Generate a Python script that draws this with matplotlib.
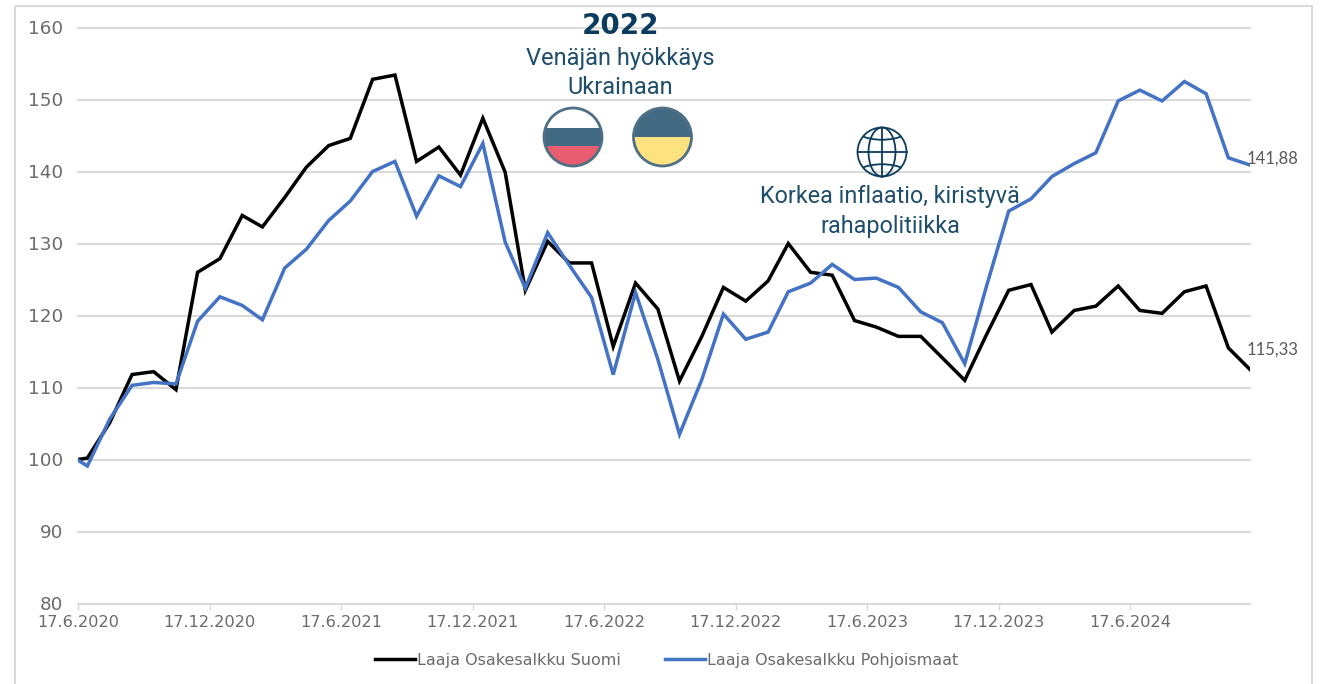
#!/usr/bin/env python3
"""Laaja Osakesalkku Suomi vs Pohjoismaat, indexed to 100 at 17.6.2020."""

from datetime import date

import matplotlib
matplotlib.use("Agg")
import matplotlib.dates as mdates
import matplotlib.pyplot as plt
from matplotlib.patches import Circle, Ellipse, Rectangle
from matplotlib.transforms import Affine2D

W, H = 1329, 684
DPI = 100

# start date, then month ends
dates = [date(2020, 6, 17)]
for y in range(2020, 2025):
    for m in range(1, 13):
        if (y, m) < (2020, 6) or (y, m) > (2024, 11):
            continue
        nxt = date(y + (m == 12), m % 12 + 1, 1)
        dates.append(date.fromordinal(nxt.toordinal() - 1))

suomi = [
    100.0, 100.2, 105.1, 111.8, 112.2, 109.7, 126.0, 127.9, 133.9, 132.3, 136.4, 140.6,
    143.6, 144.6, 152.8, 153.4, 141.4, 143.4, 139.5, 147.4, 139.9, 123.5, 130.3, 127.3,
    127.3, 115.7, 124.5, 120.9, 110.9, 117.1, 123.9, 122.0, 124.8, 130.0, 126.0, 125.6,
    119.3, 118.4, 117.1, 117.1, 114.1, 111.0, 117.3, 123.5, 124.3, 117.7, 120.7, 121.3,
    124.1, 120.7, 120.3, 123.3, 124.1, 115.5, 112.5,
]
pohjoismaat = [
    99.9, 99.1, 105.6, 110.3, 110.7, 110.5, 119.2, 122.6, 121.4, 119.4, 126.6, 129.2,
    133.2, 135.9, 140.0, 141.4, 133.8, 139.4, 137.9, 143.9, 130.2, 123.8, 131.5, 127.0,
    122.5, 111.8, 123.2, 113.9, 103.5, 111.1, 120.2, 116.7, 117.7, 123.3, 124.5, 127.1,
    125.0, 125.2, 123.9, 120.5, 119.0, 113.3, 124.0, 134.5, 136.2, 139.3, 141.1, 142.6,
    149.8, 151.3, 149.8, 152.5, 150.8, 141.9, 140.9,
]
series_names = ["Laaja Osakesalkku Suomi", "Laaja Osakesalkku Pohjoismaat"]
end_labels = ["115,33", "141,88"]
yticks = [80, 90, 100, 110, 120, 130, 140, 150, 160]
xticks = [date(2020 + i // 2, 6 if i % 2 == 0 else 12, 17) for i in range(9)]
xticklabels = [f"{d.day}.{d.month}.{d.year}" for d in xticks]

BLACK = "#000000"
BLUE = "#4472c4"
GRID = "#d9d9d9"
TICK = "#6b6b6b"
NAVY = "#0b3c5d"
TEAL = "#1f4e6b"
FLAG_BLUE = "#436a83"
FLAG_EDGE = "#4f6f86"

# pixel coordinates, y down
PX = Affine2D().scale(1, -1).translate(0, H)


def px_axes(fig, left, top, right, bottom):
    return fig.add_axes([left / W, 1 - bottom / H, (right - left) / W, (bottom - top) / H])


def flag(fig, cx, cy, r, bands):
    # circle split in horizontal bands, (y top, y bottom, colour) in pixels
    clip = Circle((cx, cy), r, transform=PX)
    for top, bottom, col in bands:
        band = Rectangle((cx - r, top), 2 * r, bottom - top, fc=col, ec="none", transform=PX, zorder=5)
        fig.add_artist(band)
        band.set_clip_path(clip)
    fig.add_artist(Circle((cx, cy), r, fc="none", ec=FLAG_EDGE, lw=2, transform=PX, zorder=6))


def globe(fig, cx, cy, r):
    clip = Circle((cx, cy), r, transform=PX)
    kw = dict(fc="none", ec=NAVY, lw=1.3, transform=PX, zorder=6)
    fig.add_artist(Circle((cx, cy), r, **kw))
    fig.add_artist(Ellipse((cx, cy), r * 1.1, 2 * r, **kw))
    # meridian, equator and the two bent parallels
    fig.add_artist(plt.Line2D([cx, cx], [cy - r, cy + r], color=NAVY, lw=1.3, transform=PX, zorder=6))
    fig.add_artist(plt.Line2D([cx - r, cx + r], [cy, cy], color=NAVY, lw=1.3, transform=PX, zorder=6))
    for c in (cy - r * 1.15, cy + r * 1.15):
        arc = Ellipse((cx, c), 2.6 * r, 1.3 * r, **kw)
        fig.add_artist(arc)
        arc.set_clip_path(clip)


fig = plt.figure(figsize=(W / DPI, H / DPI), dpi=DPI, facecolor="white")

# outer frame of the pasted chart
fig.add_artist(Rectangle((14.5, 6), 1297.5, 700, fc="none", ec="#d9d9d9", lw=1.5, transform=PX, zorder=0))

ax = px_axes(fig, 78, 27.5, 1250, 603.5)
ax.plot(dates, suomi, color=BLACK, lw=2.5, solid_joinstyle="miter", label=series_names[0], zorder=3)
ax.plot(dates, pohjoismaat, color=BLUE, lw=2.5, solid_joinstyle="miter", label=series_names[1], zorder=4)

ax.set_xlim(dates[0], dates[-1])
ax.set_ylim(80, 160)
ax.set_yticks(yticks)
ax.set_xticks([mdates.date2num(d) for d in xticks])
ax.set_xticklabels(xticklabels)
ax.grid(axis="y", color=GRID, lw=1.5, clip_on=False)
ax.set_axisbelow(True)
for s in ("top", "right", "left"):
    ax.spines[s].set_visible(False)
ax.spines["bottom"].set_color(GRID)
ax.spines["bottom"].set_linewidth(1.2)
ax.tick_params(axis="y", length=0, pad=10.8, labelsize=13.2, labelcolor=TICK)
ax.tick_params(axis="x", length=4, width=1, color=GRID, pad=4, labelsize=11.6, labelcolor=TICK)

# closing values at the right end
for vals, text, dy in ((suomi, end_labels[0], 20), (pohjoismaat, end_labels[1], 6)):
    ax.annotate(text, xy=(dates[-1], vals[-1]), xytext=(-3, dy), textcoords="offset pixels",
                ha="left", va="center", family="Lato", fontsize=12, color="#595959",
                annotation_clip=False, zorder=7)

fig.legend(loc="center", bbox_to_anchor=(666.5 / W, 1 - 660 / H), ncol=2, frameon=False,
           fontsize=11.5, labelcolor=TICK, handlelength=2.5, handletextpad=0.12, columnspacing=2.8)

fig.text(620 / W, 1 - 26 / H, "2022", ha="center", va="center", fontsize=20, fontweight="bold", color=NAVY)
fig.text(620 / W, 1 - 58 / H, "Venäjän hyökkäys", ha="center", va="center", family="Roboto", fontsize=17, color=TEAL)
fig.text(620 / W, 1 - 87 / H, "Ukrainaan", ha="center", va="center", family="Roboto", fontsize=17, color=TEAL)
fig.text(890 / W, 1 - 197 / H, "Korkea inflaatio, kiristyvä", ha="center", va="center", family="Roboto", fontsize=16.8, color=TEAL)
fig.text(890 / W, 1 - 226 / H, "rahapolitiikka", ha="center", va="center", family="Roboto", fontsize=16.8, color=TEAL)

flag(fig, 573, 137, 29, [(108, 128, "white"), (128, 146, FLAG_BLUE), (146, 167, "#e95d70")])
flag(fig, 662.5, 137, 29, [(108, 137, FLAG_BLUE), (137, 167, "#fde27f")])
globe(fig, 882, 152, 24.5)

fig.savefig("out.png", dpi=DPI)
